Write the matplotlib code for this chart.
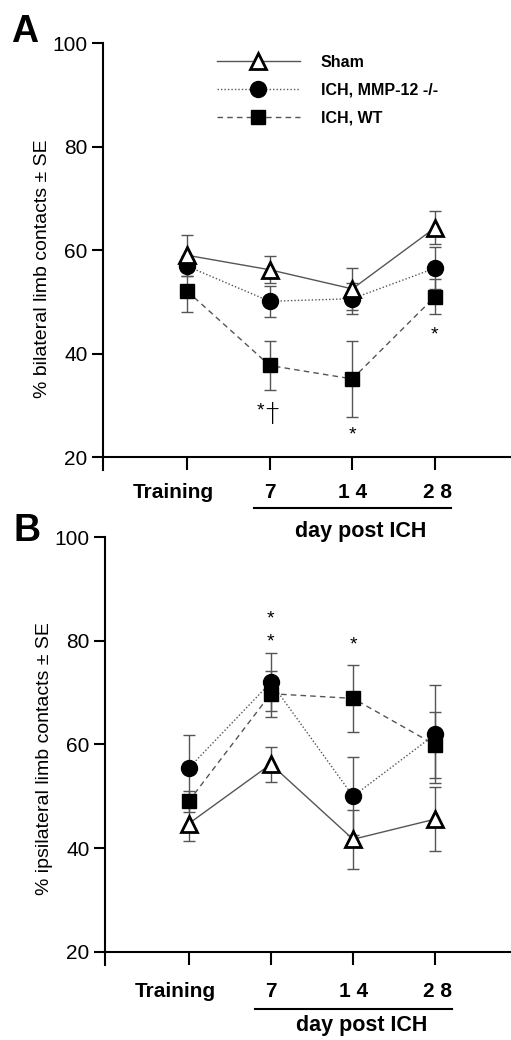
import matplotlib
matplotlib.use("Agg")
import matplotlib.pyplot as plt

plt.rcParams['font.family'] = ['Liberation Sans', 'DejaVu Sans']

categories = ["Training", "7", "1 4", "2 8"]
xpos = [1, 2, 3, 4]
groups = ["Sham", "ICH, MMP-12 -/-", "ICH, WT"]

# panel A: % bilateral limb contacts (mean, SE)
a_sham = [59.0, 56.2, 52.5, 64.3]
a_sham_se = [4.0, 2.6, 4.0, 3.2]
a_ko = [56.9, 50.1, 50.6, 56.5]
a_ko_se = [2.0, 3.0, 3.0, 4.0]
a_wt = [52.1, 37.7, 35.1, 51.0]
a_wt_se = [4.0, 4.7, 7.4, 3.4]

# panel B: % ipsilateral limb contacts (mean, SE)
b_sham = [44.7, 56.2, 41.7, 45.6]
b_sham_se = [3.3, 3.4, 5.7, 6.1]
b_ko = [55.4, 72.0, 50.0, 62.0]
b_ko_se = [6.4, 5.6, 7.5, 9.5]
b_wt = [49.0, 69.8, 68.9, 59.9]
b_wt_se = [2.0, 4.4, 6.5, 6.3]

# significance marks (x category, y value, text)
a_marks = [(1.89, 28.9, "*"), (2.03, 28.2, "\u2020"), (3, 24.3, "*"), (4, 43.6, "*")]
b_marks = [(2, 84.3, "*"), (2, 79.8, "*"), (3, 79.3, "*")]

STYLE = {
    "Sham": dict(ls="-", marker="^", ms=11, mfc="white", mew=2.0, z=5),
    "ICH, MMP-12 -/-": dict(ls=(0, (1, 1.5)), marker="o", ms=11.5, mfc="black", mew=1, z=3),
    "ICH, WT": dict(ls=(0, (4, 3)), marker="s", ms=10.5, mfc="black", mew=1, z=4),
}
LABEL_SHIFT = [-0.16, 0.0, 0.0, 0.03]   # category label nudges (x units)

fig = plt.figure(figsize=(5.11, 10.40), dpi=100)
axA = fig.add_axes([0.2016, 0.548, 0.7984, 0.4106])
axB = fig.add_axes([0.2055, 0.0724, 0.7945, 0.411])
axB.patch.set_visible(False)


def draw(ax, series, marks, ylabel, label_y, ylab_base):
    handles = []
    for name, (y, se) in zip(groups, series):
        st = STYLE[name]
        ax.errorbar(xpos, y, yerr=se, fmt="none", ecolor="#555555", elinewidth=1.0,
                    capsize=4.5, capthick=1.0, zorder=1)
        h, = ax.plot(xpos, y, ls=st["ls"], color="#555555", lw=1.0, marker=st["marker"],
                     ms=st["ms"], mfc=st["mfc"], mec="black", mew=st["mew"],
                     zorder=st["z"], label=name)
        handles.append(h)
    for x, y, t in marks:
        if t == "\u2020":
            ax.text(x, y, t, ha="center", va="center", fontsize=19, color="black",
                    family="DejaVu Sans", fontweight="light")
        else:
            ax.text(x, y, t, ha="center", va="center", fontsize=14, color="black")

    ax.set_xlim(-0.016, 4.92)
    ax.set_ylim(17.49, 100)
    ax.tick_params(axis="y", direction="out", length=8, width=1.5, labelsize=15, pad=3)
    ax.tick_params(axis="x", direction="out", length=9.4, width=1.5, labelbottom=False)
    ax.set_yticks([20, 40, 60, 80, 100])
    ax.set_xticks(xpos)
    for x, lab, dx in zip(xpos, categories, LABEL_SHIFT):
        ax.text(x + dx, ylab_base, lab, ha="center", va="baseline", fontsize=15,
                fontweight="bold", clip_on=False)
    for s in ("top", "right"):
        ax.spines[s].set_visible(False)
    for s in ("left", "bottom"):
        ax.spines[s].set_linewidth(1.5)
    ax.spines["bottom"].set_position(("data", 20))
    ax.set_ylabel(ylabel, fontsize=14)
    ax.yaxis.set_label_coords(-0.127, label_y)
    return handles


hA = draw(axA, [(a_sham, a_sham_se), (a_ko, a_ko_se), (a_wt, a_wt_se)], a_marks,
          "% bilateral limb contacts \u00b1 SE", 0.472, 12.0)
draw(axB, [(b_sham, b_sham_se), (b_ko, b_ko_se), (b_wt, b_wt_se)], b_marks,
     "% ipsilateral limb contacts \u00b1 SE", 0.483, 11.2)

leg = axA.legend(handles=hA, loc="upper left", bbox_to_anchor=(0.279, 0.973),
                 frameon=False, numpoints=1, handlelength=5.2, handletextpad=1.3,
                 labelspacing=0.8, borderpad=0, borderaxespad=0,
                 prop=dict(weight="bold", size=11.5))

# "day post ICH" bracket under days 7-28
for ax, ybar, ytxt in [(axA, 10.1, 4.5), (axB, 8.9, 4.7)]:
    ax.plot([xpos[1] - 0.19, xpos[3] + 0.2], [ybar, ybar], color="black", lw=1.5,
            clip_on=False)
    ax.text((xpos[1] + xpos[3]) / 2 + 0.1, ytxt, "day post ICH", ha="center",
            va="baseline", fontsize=15.5, fontweight="bold", clip_on=False)

fig.text(0.022, 0.9596, "A", fontsize=27, fontweight="bold", ha="left", va="baseline")
fig.text(0.026, 0.4798, "B", fontsize=27, fontweight="bold", ha="left", va="baseline")

fig.savefig("out.png", dpi=100)
